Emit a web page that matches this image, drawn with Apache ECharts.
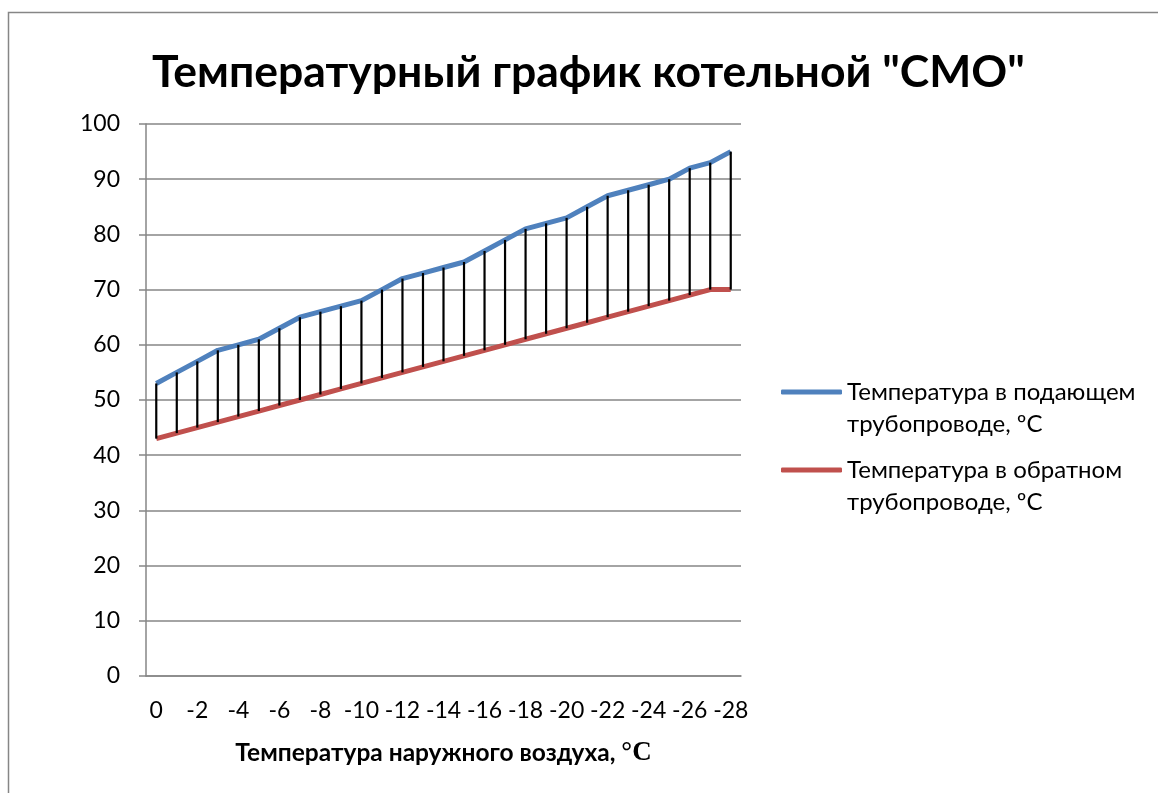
<!DOCTYPE html>
<html>
<head>
<meta charset="utf-8">
<script src="https://cdn.jsdelivr.net/npm/echarts@6/dist/echarts.min.js"></script>
<style>
  html, body { margin: 0; padding: 0; background: #fff; }
  #main { width: 1158px; height: 793px; }
</style>
</head>
<body>
<div id="main"></div>
<script>
// температура наружного воздуха, 0 .. -28
var outdoorTemp = [0, -1, -2, -3, -4, -5, -6, -7, -8, -9, -10, -11, -12, -13, -14,
                   -15, -16, -17, -18, -19, -20, -21, -22, -23, -24, -25, -26, -27, -28];
// подающий трубопровод
var supplyTemp = [53, 55, 57, 59, 60, 61, 63, 65, 66, 67, 68, 70, 72, 73, 74,
                  75, 77, 79, 81, 82, 83, 85, 87, 88, 89, 90, 92, 93, 95];
// обратный трубопровод
var returnTemp = [43, 44, 45, 46, 47, 48, 49, 50, 51, 52, 53, 54, 55, 56, 57,
                  58, 59, 60, 61, 62, 63, 64, 65, 66, 67, 68, 69, 70, 70];
var yTicks = { min: 0, max: 100, step: 10 };

var supplyName = 'Температура в подающем\nтрубопроводе, ºС';
var returnName = 'Температура в обратном\nтрубопроводе, ºС';
var FONT = 'Lato, "Noto Sans", sans-serif';

var dropData = [];
for (var i = 0; i < outdoorTemp.length; i++) {
  dropData.push([i, supplyTemp[i], returnTemp[i]]);
}

var chart = echarts.init(document.getElementById('main'));

// легенда: значок на уровне первой строки подписи
function legendFor(name, top) {
  return {
    data: [name],
    orient: 'vertical',
    left: 781,
    top: top,
    padding: 0,
    itemWidth: 61,
    itemHeight: 5,
    icon: 'roundRect',
    selectedMode: false,
    formatter: function (n) { return '\n' + n; },
    textStyle: {
      fontFamily: FONT,
      fontSize: 24,
      color: '#000',
      lineHeight: 32
    }
  };
}

var option = {
  animation: false,
  backgroundColor: '#fff',
  title: {
    text: 'Температурный график котельной "СМО"',
    left: 152,
    top: 50,
    padding: 0,
    textStyle: {
      fontFamily: FONT,
      fontSize: 44.5,
      fontWeight: 'bold',
      color: '#000'
    }
  },
  graphic: [{
    type: 'rect',
    shape: { x: 8.5, y: 12.5, width: 1300, height: 1000 },
    style: { fill: 'none', stroke: '#868686', lineWidth: 1.5 },
    silent: true
  }],
  legend: [legendFor(supplyName, 344), legendFor(returnName, 422)],
  grid: { left: 146, right: 417, top: 124, bottom: 117, containLabel: false },
  xAxis: {
    type: 'category',
    data: outdoorTemp,
    boundaryGap: true,
    name: '{a|Температура наружного воздуха, }{b|°C}',
    nameLocation: 'middle',
    nameGap: 64,
    nameTextStyle: {
      rich: {
        a: { fontFamily: FONT, fontSize: 24.5, fontWeight: 'bold', color: '#000' },
        b: { fontFamily: '"Liberation Serif", serif', fontSize: 27, fontWeight: 'bold', color: '#000' }
      }
    },
    axisLine: { lineStyle: { color: '#868686', width: 1.5 } },
    axisTick: { show: false },
    axisLabel: {
      interval: 1,
      margin: 23,
      fontFamily: FONT,
      fontSize: 23,
      color: '#000'
    },
    splitLine: { show: false }
  },
  yAxis: {
    type: 'value',
    min: yTicks.min,
    max: yTicks.max,
    interval: yTicks.step,
    axisLine: { show: true, lineStyle: { color: '#868686', width: 1.5 } },
    axisTick: { show: true, length: 7, lineStyle: { color: '#868686', width: 1.5 } },
    axisLabel: {
      margin: 26,
      fontFamily: FONT,
      fontSize: 23,
      color: '#000'
    },
    splitLine: { lineStyle: { color: '#868686', width: 1.5 } }
  },
  series: [
    {
      name: supplyName,
      type: 'line',
      data: supplyTemp,
      symbol: 'none',
      lineStyle: { color: '#4F81BD', width: 5 },
      itemStyle: { color: '#4F81BD' },
      z: 2
    },
    {
      name: returnName,
      type: 'line',
      data: returnTemp,
      symbol: 'none',
      lineStyle: { color: '#C0504D', width: 5 },
      itemStyle: { color: '#C0504D' },
      z: 2
    },
    {
      type: 'custom',
      data: dropData,
      z: 3,
      renderItem: function (params, api) {
        var top = api.coord([api.value(0), api.value(1)]);
        var bot = api.coord([api.value(0), api.value(2)]);
        return {
          type: 'line',
          shape: { x1: top[0], y1: top[1], x2: bot[0], y2: bot[1] },
          style: { stroke: '#000', lineWidth: 2.2 }
        };
      }
    }
  ]
};

chart.setOption(option);
</script>
</body>
</html>
